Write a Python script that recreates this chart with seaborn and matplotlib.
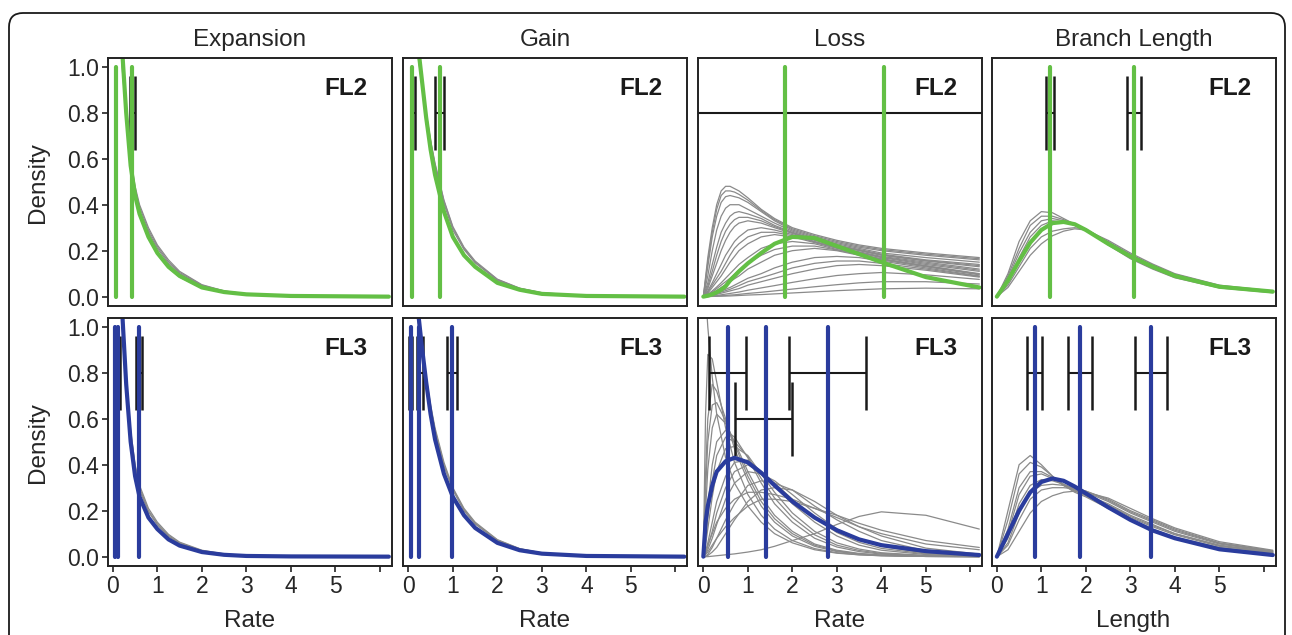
import pandas as pd
import seaborn as sns
import matplotlib.pyplot as plt
from matplotlib.patches import FancyBboxPatch

sns.set_style("ticks")
plt.rcParams['font.family'] = ['Liberation Sans', 'DejaVu Sans']

green = '#63bf45'
blue = '#2a3c9d'
grey = '#8a8a8a'
black = '#1a1a1a'

# x positions the densities were read at
grid_rate = [0.1, 0.2, 0.3, 0.4, 0.5, 0.6, 0.8, 1.0, 1.25, 1.5, 2.0, 2.5, 3.0, 4.0, 6.2]
grid_loss2 = [0, 0.1, 0.2, 0.3, 0.4, 0.5, 0.6, 0.7, 0.8, 1.0, 1.3, 1.6, 2.0, 2.5, 3.0, 3.5, 4.0, 5.0, 6.2]
grid_loss3 = [0, 0.05, 0.1, 0.2, 0.3, 0.5, 0.7, 1.0, 1.3, 1.6, 2.0, 2.5, 3.0, 3.5, 4.0, 5.0, 6.2]
grid_len = [0, 0.25, 0.5, 0.75, 1.0, 1.25, 1.5, 1.75, 2.0, 2.5, 3.0, 3.5, 4.0, 5.0, 6.2]

# ---------------- Expansion ----------------
exp_fl2_main = [1.8, 1.1, 0.8, 0.57, 0.44, 0.36, 0.26, 0.19, 0.13, 0.09, 0.04, 0.02, 0.01, 0.003, 0.0]
exp_fl2_grey = [
    [1.6, 1.02, 0.78, 0.6, 0.48, 0.4, 0.3, 0.225, 0.16, 0.11, 0.052, 0.025, 0.012, 0.003, 0],
    [1.75, 1.08, 0.79, 0.58, 0.455, 0.375, 0.28, 0.21, 0.145, 0.1, 0.047, 0.022, 0.011, 0.003, 0],
    [1.65, 1.04, 0.78, 0.59, 0.47, 0.39, 0.29, 0.218, 0.152, 0.105, 0.05, 0.024, 0.012, 0.003, 0],
    [1.85, 1.12, 0.81, 0.565, 0.435, 0.355, 0.255, 0.185, 0.125, 0.085, 0.038, 0.018, 0.009, 0.002, 0],
]
exp_fl2_lines = [0.06, 0.43]
exp_fl2_bars = [(0.055, 0.065, 0.8), (0.38, 0.49, 0.8)]

exp_fl3_main = [1.8, 1.1, 0.75, 0.5, 0.35, 0.26, 0.17, 0.12, 0.075, 0.048, 0.02, 0.008, 0.003, 0.001, 0]
exp_fl3_grey = [
    [1.6, 1.05, 0.77, 0.55, 0.4, 0.31, 0.21, 0.15, 0.097, 0.063, 0.028, 0.012, 0.005, 0.001, 0],
    [1.7, 1.08, 0.76, 0.53, 0.38, 0.29, 0.195, 0.138, 0.088, 0.057, 0.025, 0.01, 0.004, 0.001, 0],
    [1.65, 1.06, 0.77, 0.54, 0.39, 0.30, 0.20, 0.143, 0.092, 0.06, 0.026, 0.011, 0.004, 0.001, 0],
    [1.8, 1.1, 0.75, 0.505, 0.355, 0.265, 0.175, 0.125, 0.078, 0.05, 0.021, 0.008, 0.003, 0.001, 0],
]
exp_fl3_lines = [0.04, 0.12, 0.58]
exp_fl3_bars = [(0.06, 0.15, 0.8), (0.52, 0.65, 0.8)]

# ---------------- Gain ----------------
gain_fl2_main = [1.5, 1.12, 0.95, 0.78, 0.64, 0.53, 0.37, 0.26, 0.18, 0.13, 0.06, 0.03, 0.012, 0.003, 0]
gain_fl2_grey = [
    [1.4, 1.07, 0.93, 0.8, 0.68, 0.58, 0.42, 0.305, 0.215, 0.155, 0.076, 0.037, 0.017, 0.004, 0],
    [1.45, 1.1, 0.94, 0.79, 0.665, 0.565, 0.405, 0.29, 0.205, 0.147, 0.071, 0.034, 0.015, 0.004, 0],
    [1.42, 1.08, 0.935, 0.795, 0.675, 0.575, 0.415, 0.3, 0.21, 0.15, 0.074, 0.036, 0.016, 0.004, 0],
    [1.5, 1.12, 0.95, 0.78, 0.645, 0.535, 0.375, 0.265, 0.185, 0.133, 0.062, 0.03, 0.013, 0.003, 0],
]
gain_fl2_lines = [0.08, 0.7]
gain_fl2_bars = [(0.05, 0.15, 0.8), (0.6, 0.8, 0.8)]

gain_fl3_main = [1.5, 1.1, 0.92, 0.76, 0.62, 0.51, 0.36, 0.26, 0.18, 0.125, 0.06, 0.028, 0.013, 0.003, 0]
gain_fl3_grey = [
    [1.4, 1.05, 0.9, 0.78, 0.66, 0.56, 0.41, 0.3, 0.21, 0.15, 0.074, 0.035, 0.016, 0.004, 0],
    [1.45, 1.08, 0.91, 0.77, 0.645, 0.545, 0.395, 0.29, 0.2, 0.142, 0.07, 0.033, 0.015, 0.003, 0],
    [1.42, 1.06, 0.9, 0.775, 0.65, 0.55, 0.40, 0.295, 0.205, 0.145, 0.072, 0.034, 0.016, 0.004, 0],
]
gain_fl3_lines = [0.05, 0.25, 0.98]
gain_fl3_bars = [(0.02, 0.09, 0.8), (0.2, 0.33, 0.8), (0.87, 1.1, 0.8)]

# ---------------- Loss ----------------
loss_fl2_main = [0, 0.004, 0.01, 0.019, 0.03, 0.045, 0.07, 0.09, 0.11, 0.145, 0.19, 0.23, 0.26,
                 0.255, 0.22, 0.185, 0.15, 0.085, 0.04]
loss_fl2_grey = [
    [0, 0.17, 0.30, 0.40, 0.46, 0.48, 0.48, 0.47, 0.46, 0.43, 0.38, 0.34, 0.30, 0.27, 0.245, 0.225, 0.21, 0.19, 0.17],
    [0, 0.15, 0.28, 0.38, 0.44, 0.46, 0.46, 0.455, 0.445, 0.42, 0.375, 0.335, 0.295, 0.265, 0.24, 0.22, 0.205, 0.185, 0.165],
    [0, 0.13, 0.26, 0.35, 0.41, 0.435, 0.44, 0.435, 0.43, 0.41, 0.37, 0.33, 0.29, 0.26, 0.235, 0.215, 0.20, 0.18, 0.16],
    [0, 0.09, 0.20, 0.29, 0.35, 0.385, 0.40, 0.40, 0.40, 0.38, 0.35, 0.32, 0.285, 0.255, 0.23, 0.21, 0.19, 0.17, 0.15],
    [0, 0.06, 0.14, 0.215, 0.28, 0.32, 0.35, 0.365, 0.37, 0.36, 0.34, 0.31, 0.28, 0.25, 0.225, 0.205, 0.185, 0.16, 0.14],
    [0, 0.045, 0.11, 0.18, 0.24, 0.285, 0.315, 0.335, 0.345, 0.345, 0.33, 0.305, 0.278, 0.248, 0.222, 0.202, 0.182, 0.157, 0.135],
    [0, 0.035, 0.09, 0.145, 0.20, 0.245, 0.28, 0.305, 0.32, 0.33, 0.32, 0.30, 0.275, 0.245, 0.22, 0.20, 0.18, 0.155, 0.13],
    [0, 0.025, 0.06, 0.10, 0.14, 0.18, 0.21, 0.24, 0.26, 0.29, 0.30, 0.29, 0.27, 0.24, 0.215, 0.195, 0.175, 0.15, 0.12],
    [0, 0.02, 0.05, 0.08, 0.11, 0.145, 0.18, 0.21, 0.23, 0.26, 0.28, 0.28, 0.265, 0.238, 0.212, 0.192, 0.172, 0.145, 0.115],
    [0, 0.015, 0.04, 0.065, 0.09, 0.12, 0.15, 0.175, 0.20, 0.23, 0.26, 0.27, 0.26, 0.235, 0.21, 0.19, 0.17, 0.14, 0.11],
    [0, 0.01, 0.025, 0.042, 0.06, 0.08, 0.10, 0.12, 0.14, 0.17, 0.21, 0.23, 0.24, 0.23, 0.205, 0.185, 0.165, 0.135, 0.10],
    [0, 0.008, 0.02, 0.035, 0.05, 0.065, 0.08, 0.098, 0.115, 0.145, 0.18, 0.205, 0.22, 0.22, 0.203, 0.183, 0.163, 0.133, 0.098],
    [0, 0.006, 0.015, 0.027, 0.04, 0.052, 0.065, 0.078, 0.09, 0.12, 0.15, 0.18, 0.20, 0.21, 0.20, 0.18, 0.16, 0.13, 0.095],
    [0, 0.004, 0.01, 0.017, 0.025, 0.032, 0.04, 0.05, 0.06, 0.08, 0.10, 0.125, 0.15, 0.17, 0.175, 0.17, 0.155, 0.125, 0.09],
    [0, 0.003, 0.007, 0.013, 0.02, 0.026, 0.032, 0.04, 0.048, 0.065, 0.082, 0.10, 0.125, 0.145, 0.155, 0.155, 0.145, 0.12, 0.088],
    [0, 0.002, 0.005, 0.01, 0.015, 0.02, 0.025, 0.03, 0.035, 0.05, 0.065, 0.08, 0.10, 0.12, 0.135, 0.14, 0.135, 0.115, 0.085],
    [0, 0.001, 0.003, 0.005, 0.008, 0.011, 0.014, 0.017, 0.02, 0.028, 0.038, 0.048, 0.062, 0.078, 0.092, 0.10, 0.105, 0.095, 0.075],
    [0, 0.001, 0.002, 0.003, 0.004, 0.005, 0.007, 0.008, 0.01, 0.014, 0.019, 0.025, 0.033, 0.043, 0.052, 0.06, 0.065, 0.065, 0.055],
    [0, 0, 0.001, 0.0015, 0.002, 0.0025, 0.003, 0.004, 0.005, 0.007, 0.009, 0.012, 0.016, 0.021, 0.026, 0.03, 0.034, 0.037, 0.034],
]
loss_fl2_lines = [1.83, 4.06]
loss_fl2_bars = [(-1.0, 8.0, 0.8)]

loss_fl3_main = [0, 0.15, 0.22, 0.31, 0.37, 0.415, 0.43, 0.41, 0.365, 0.31, 0.24, 0.17, 0.115, 0.075, 0.05, 0.024, 0.007]
loss_fl3_grey = [
    [1.3, 1.15, 1.0, 0.78, 0.62, 0.43, 0.32, 0.22, 0.15, 0.10, 0.06, 0.03, 0.015, 0.008, 0.004, 0.001, 0],
    [0, 0.62, 0.88, 0.86, 0.76, 0.56, 0.41, 0.27, 0.18, 0.12, 0.07, 0.035, 0.017, 0.008, 0.004, 0.001, 0],
    [0, 0.36, 0.60, 0.75, 0.72, 0.60, 0.47, 0.33, 0.22, 0.15, 0.09, 0.045, 0.022, 0.011, 0.005, 0.001, 0],
    [0, 0.28, 0.50, 0.66, 0.67, 0.59, 0.49, 0.35, 0.24, 0.165, 0.10, 0.05, 0.025, 0.012, 0.006, 0.001, 0],
    [0, 0.20, 0.38, 0.56, 0.62, 0.58, 0.50, 0.37, 0.26, 0.18, 0.11, 0.055, 0.028, 0.014, 0.007, 0.002, 0],
    [0, 0.10, 0.22, 0.40, 0.50, 0.55, 0.52, 0.43, 0.32, 0.23, 0.15, 0.08, 0.042, 0.022, 0.011, 0.003, 0.001],
    [0, 0.07, 0.17, 0.33, 0.44, 0.52, 0.50, 0.435, 0.34, 0.255, 0.17, 0.095, 0.05, 0.027, 0.014, 0.004, 0.001],
    [0, 0.05, 0.12, 0.26, 0.37, 0.47, 0.48, 0.44, 0.36, 0.28, 0.19, 0.11, 0.06, 0.033, 0.017, 0.005, 0.001],
    [0, 0.02, 0.06, 0.15, 0.24, 0.35, 0.41, 0.42, 0.37, 0.31, 0.23, 0.15, 0.09, 0.05, 0.028, 0.009, 0.002],
    [0, 0.015, 0.045, 0.11, 0.19, 0.30, 0.37, 0.40, 0.365, 0.32, 0.25, 0.17, 0.105, 0.062, 0.036, 0.012, 0.003],
    [0, 0.01, 0.03, 0.08, 0.14, 0.25, 0.32, 0.37, 0.36, 0.33, 0.27, 0.19, 0.12, 0.075, 0.045, 0.015, 0.004],
    [0, 0, 0.01, 0.04, 0.08, 0.16, 0.23, 0.31, 0.33, 0.32, 0.29, 0.22, 0.16, 0.11, 0.07, 0.026, 0.007],
    [0, 0, 0.005, 0.02, 0.04, 0.10, 0.16, 0.24, 0.29, 0.30, 0.29, 0.24, 0.18, 0.13, 0.09, 0.037, 0.011],
    [0, 0.02, 0.05, 0.10, 0.15, 0.21, 0.25, 0.28, 0.28, 0.27, 0.25, 0.21, 0.17, 0.13, 0.10, 0.055, 0.03],
    [0, 0.01, 0.02, 0.05, 0.08, 0.13, 0.17, 0.22, 0.25, 0.25, 0.24, 0.21, 0.18, 0.145, 0.115, 0.07, 0.04],
    [0, 0, 0, 0.002, 0.004, 0.008, 0.012, 0.02, 0.03, 0.045, 0.07, 0.10, 0.14, 0.175, 0.195, 0.18, 0.12],
]
loss_fl3_lines = [0.55, 1.4, 2.8]
loss_fl3_bars = [(0.13, 0.95, 0.8), (0.72, 1.99, 0.6), (1.92, 3.66, 0.8)]

# ---------------- Branch length ----------------
len_fl2_main = [0, 0.07, 0.155, 0.235, 0.29, 0.32, 0.325, 0.315, 0.29, 0.23, 0.175, 0.13, 0.09, 0.043, 0.022]
len_fl2_grey = [
    [0, 0.10, 0.24, 0.33, 0.37, 0.365, 0.34, 0.315, 0.29, 0.225, 0.165, 0.12, 0.082, 0.038, 0.017],
    [0, 0.09, 0.21, 0.31, 0.35, 0.35, 0.335, 0.315, 0.292, 0.23, 0.17, 0.124, 0.086, 0.04, 0.019],
    [0, 0.07, 0.17, 0.26, 0.31, 0.33, 0.325, 0.315, 0.295, 0.235, 0.178, 0.132, 0.092, 0.044, 0.021],
    [0, 0.05, 0.13, 0.21, 0.26, 0.285, 0.295, 0.30, 0.293, 0.24, 0.185, 0.138, 0.097, 0.048, 0.023],
    [0, 0.04, 0.11, 0.18, 0.23, 0.265, 0.285, 0.295, 0.29, 0.245, 0.19, 0.142, 0.1, 0.05, 0.025],
    [0, 0.08, 0.19, 0.28, 0.33, 0.34, 0.33, 0.31, 0.29, 0.228, 0.17, 0.125, 0.088, 0.042, 0.02],
]
len_fl2_lines = [1.2, 3.08]
len_fl2_bars = [(1.11, 1.29, 0.8), (2.93, 3.23, 0.8)]

len_fl3_main = [0, 0.10, 0.20, 0.28, 0.325, 0.34, 0.33, 0.305, 0.275, 0.215, 0.16, 0.114, 0.08, 0.032, 0.007]
len_fl3_grey = [
    [0, 0.20, 0.40, 0.44, 0.40, 0.35, 0.31, 0.28, 0.26, 0.21, 0.16, 0.12, 0.085, 0.04, 0.015],
    [0, 0.16, 0.36, 0.41, 0.39, 0.35, 0.31, 0.285, 0.265, 0.22, 0.17, 0.13, 0.095, 0.045, 0.018],
    [0, 0.12, 0.30, 0.37, 0.37, 0.345, 0.315, 0.29, 0.27, 0.23, 0.18, 0.14, 0.10, 0.05, 0.02],
    [0, 0.08, 0.23, 0.31, 0.335, 0.33, 0.315, 0.295, 0.28, 0.24, 0.19, 0.15, 0.11, 0.055, 0.022],
    [0, 0.05, 0.16, 0.25, 0.29, 0.30, 0.30, 0.295, 0.285, 0.25, 0.20, 0.16, 0.12, 0.06, 0.025],
    [0, 0.03, 0.11, 0.19, 0.24, 0.265, 0.28, 0.285, 0.28, 0.255, 0.21, 0.165, 0.125, 0.065, 0.028],
    [0, 0.10, 0.27, 0.35, 0.36, 0.34, 0.31, 0.29, 0.27, 0.225, 0.175, 0.135, 0.10, 0.048, 0.019],
    [0, 0.06, 0.19, 0.28, 0.31, 0.315, 0.31, 0.30, 0.285, 0.245, 0.195, 0.155, 0.115, 0.058, 0.024],
]
len_fl3_lines = [0.85, 1.86, 3.47]
len_fl3_bars = [(0.67, 1.01, 0.8), (1.59, 2.13, 0.8), (3.11, 3.82, 0.8)]

col_titles = ['Expansion', 'Gain', 'Loss', 'Branch Length']
x_titles = ['Rate', 'Rate', 'Rate', 'Length']
row_tags = ['FL2', 'FL3']

panels = [
    [(grid_rate, exp_fl2_grey, exp_fl2_main, exp_fl2_lines, exp_fl2_bars),
     (grid_rate, gain_fl2_grey, gain_fl2_main, gain_fl2_lines, gain_fl2_bars),
     (grid_loss2, loss_fl2_grey, loss_fl2_main, loss_fl2_lines, loss_fl2_bars),
     (grid_len, len_fl2_grey, len_fl2_main, len_fl2_lines, len_fl2_bars)],
    [(grid_rate, exp_fl3_grey, exp_fl3_main, exp_fl3_lines, exp_fl3_bars),
     (grid_rate, gain_fl3_grey, gain_fl3_main, gain_fl3_lines, gain_fl3_bars),
     (grid_loss3, loss_fl3_grey, loss_fl3_main, loss_fl3_lines, loss_fl3_bars),
     (grid_len, len_fl3_grey, len_fl3_main, len_fl3_lines, len_fl3_bars)],
]
row_colors = [green, blue]

W, H = 1292, 635
fig = plt.figure(figsize=(W / 100, H / 100), dpi=100)

col_left = [107.5, 403, 698, 991.5]
row_top = [58.3, 318.3]
pw, ph = 284, 248

for r in range(2):
    for c in range(4):
        grid, greys, main, lines, bars = panels[r][c]
        col = row_colors[r]
        ax = fig.add_axes([col_left[c] / W, 1 - (row_top[r] + ph) / H, pw / W, ph / H])

        long = pd.DataFrame([(i, x, y) for i, cv in enumerate(greys) for x, y in zip(grid, cv)],
                            columns=['curve', 'x', 'density'])
        sns.lineplot(data=long, x='x', y='density', units='curve', estimator=None,
                     color=grey, lw=0.9, ax=ax, legend=False)

        for lo, hi, yc in bars:
            ax.hlines(yc, lo, hi, color=black, lw=1.5)
            ax.vlines([lo, hi], yc - 0.16, yc + 0.16, color=black, lw=1.8)

        sns.lineplot(x=grid, y=main, color=col, lw=3.0, ax=ax, solid_capstyle='round')
        ax.vlines(lines, 0, 1, color=col, lw=3.0, capstyle='round')

        ax.set_xlim(-0.12, 6.26)
        ax.set_ylim(-0.042, 1.037)
        ax.set_xlabel('')
        ax.set_ylabel('')
        ax.text(5.72, 0.905, row_tags[r], ha='right', va='center',
                fontsize=17.5, fontweight='bold', color=black)

        for s in ax.spines.values():
            s.set_visible(True)
            s.set_linewidth(1.4)
            s.set_color('#222222')

        if c == 0:
            ax.set_yticks([0, 0.2, 0.4, 0.6, 0.8, 1.0])
            ax.set_yticklabels(['0.0', '0.2', '0.4', '0.6', '0.8', '1.0'])
        else:
            ax.set_yticks([])
        if r == 1:
            ax.set_xticks([0, 1, 2, 3, 4, 5, 6])
            ax.set_xticklabels(['0', '1', '2', '3', '4', '5', ''])
        else:
            ax.set_xticks([])
        ax.tick_params(axis='both', direction='out', length=4.5, width=1.2,
                       labelsize=16.5, pad=1.5, color='#222222',
                       bottom=True, left=True)

        if r == 0:
            fig.text((col_left[c] + pw / 2) / W, 1 - 40 / H, col_titles[c],
                     ha='center', va='center', fontsize=17.5)
        else:
            fig.text((col_left[c] + pw / 2) / W, 1 - 621 / H, x_titles[c],
                     ha='center', va='center', fontsize=17.5)

for r in range(2):
    fig.text(38 / W, 1 - (row_top[r] + ph / 2) / H, 'Density', rotation=90,
             ha='center', va='center', fontsize=17.5)

frame = FancyBboxPatch((9, -60), 1276, H - 13 + 60, boxstyle='round,pad=0,rounding_size=14',
                       transform=None, fill=False, lw=1.3, ec=black)
fig.patches.append(frame)

plt.savefig('out.png', dpi=100)
